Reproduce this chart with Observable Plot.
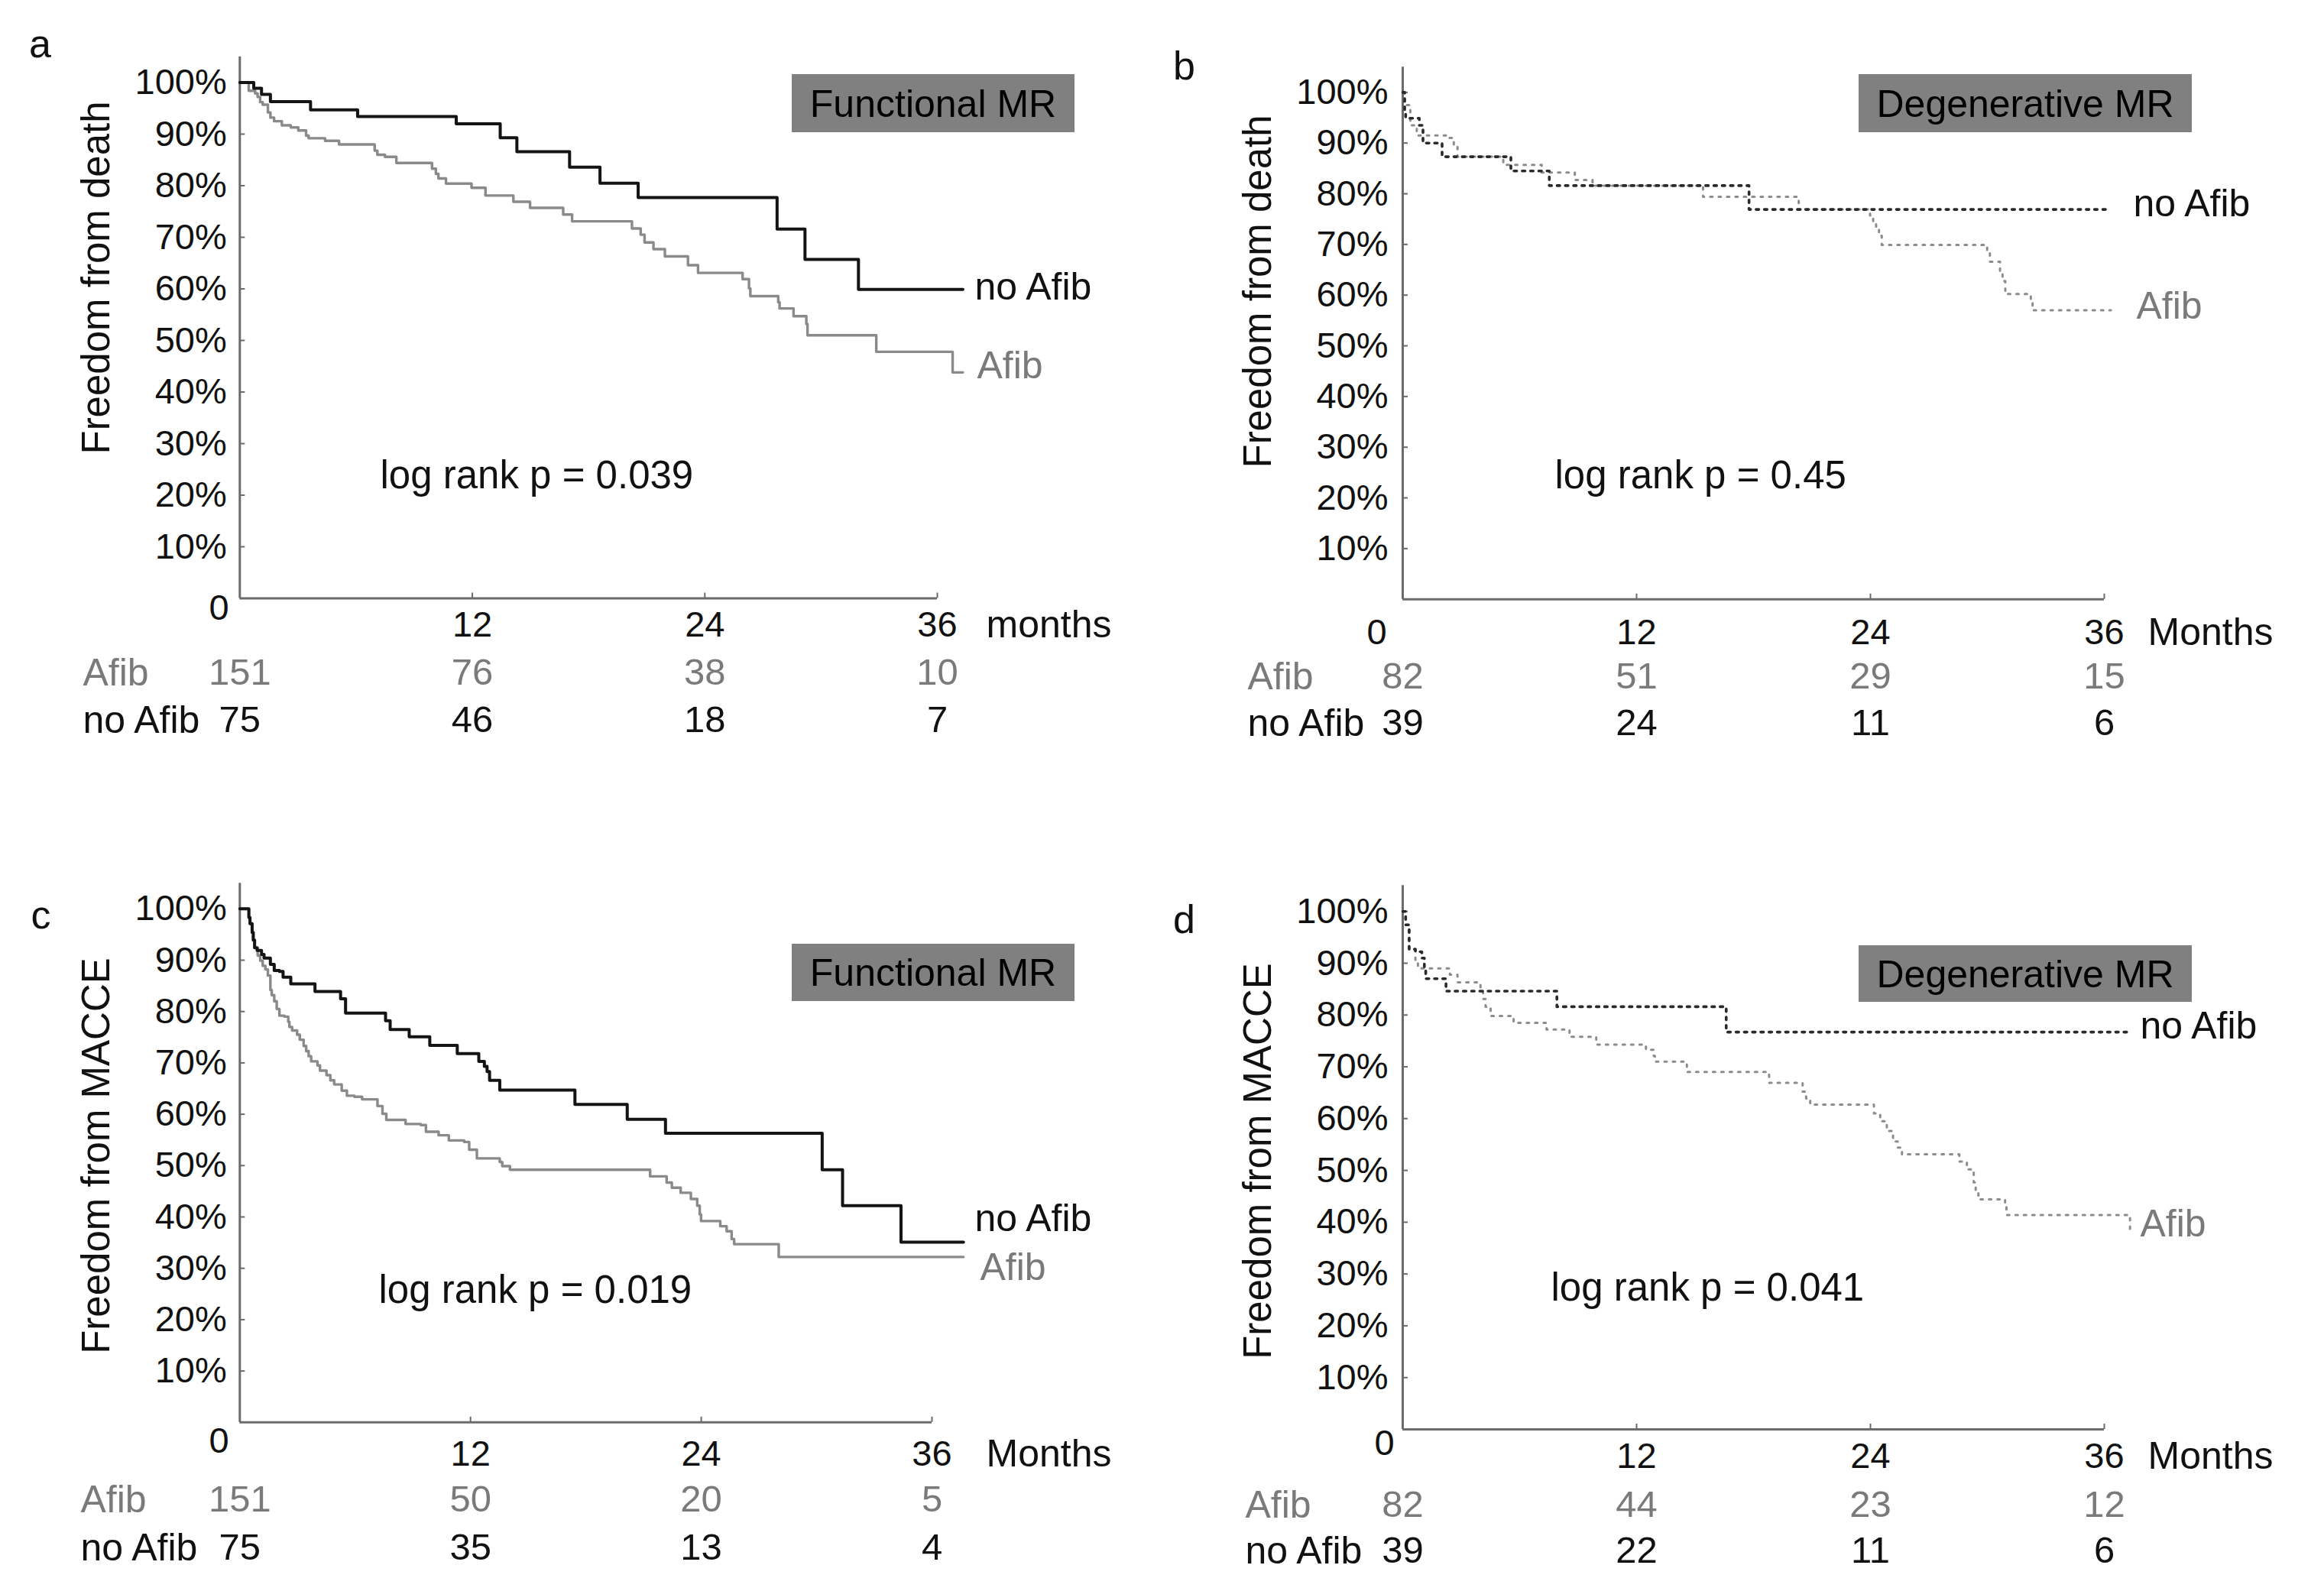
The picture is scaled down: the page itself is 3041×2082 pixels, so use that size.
<!DOCTYPE html>
<html>
<head>
<meta charset="utf-8">
<script src="https://cdn.jsdelivr.net/npm/d3@7"></script>
<script src="https://cdn.jsdelivr.net/npm/@observablehq/plot@0.6"></script>
<style>
html, body { margin: 0; padding: 0; background: #fff; }
#wrap { position: relative; width: 3041px; height: 2082px; overflow: hidden; background: #fff; }
.panel { position: absolute; }
</style>
</head>
<body>
<div id="wrap"></div>
<script>
// ---------- data ----------
const monthTicks = [0, 12, 24, 36];
const xTickLabels = ["12", "24", "36"];
const yTicks = [0.1, 0.2, 0.3, 0.4, 0.5, 0.6, 0.7, 0.8, 0.9, 1.0];

// Panel a: freedom from death, functional MR  [month, %]
const aNoAfib = [[0,100],[0.72,98.9],[1.12,97.7],[1.58,96.3],[3.65,94.7],[6.08,93.4],[11.17,92.0],[13.44,89.3],[14.3,86.6],[17.02,83.6],[18.59,80.5],[20.56,77.7],[27.73,71.6],[29.17,65.7],[31.93,59.9],[37.32,59.9]];
const aAfib = [[0,100],[0.46,98.4],[0.79,97.9],[0.92,97.2],[1.05,96.2],[1.18,95.7],[1.45,94.2],[1.58,93.2],[1.77,92.5],[2.17,91.7],[2.63,91.3],[3.02,90.7],[3.42,89.7],[3.55,89.2],[4.40,88.7],[5.12,88.0],[6.96,86.8],[7.10,86.0],[7.49,85.6],[8.08,84.4],[9.92,83.3],[10.12,82.3],[10.25,81.4],[10.64,80.4],[11.96,79.6],[12.68,78.1],[14.12,76.9],[14.98,75.7],[16.69,74.4],[17.15,73.1],[20.24,71.7],[20.69,70.5],[20.89,69.0],[21.35,67.7],[21.94,66.3],[23.13,64.6],[23.65,63.1],[25.95,61.9],[26.28,60.1],[26.35,58.6],[27.79,57.4],[27.86,56.2],[28.58,54.7],[29.24,53.2],[29.3,51.0],[32.85,47.8],[36.79,43.8],[37.32,43.8]];
const aRiskAfib = [151, 76, 38, 10];
const aRiskNoAfib = [75, 46, 18, 7];

// Panel b: freedom from death, degenerative MR
const bNoAfib = [[0,100],[0.1,96.0],[0.15,94.9],[0.85,93.5],[1.04,90.0],[2.02,87.3],[5.55,84.5],[7.52,81.6],[17.77,76.9],[36.34,76.9]];
const bAfib = [[0,100],[0.1,97.5],[0.39,93.5],[0.72,91.5],[2.35,91.0],[2.62,89.6],[2.81,87.3],[5.16,85.7],[7.13,84.2],[8.83,82.7],[9.74,81.6],[15.41,79.4],[20.32,76.9],[23.98,75.7],[24.14,74.2],[24.29,72.9],[24.44,71.7],[24.58,69.9],[29.99,68.9],[30.13,66.6],[30.65,64.1],[30.78,62.8],[30.92,60.2],[32.23,58.8],[32.32,57.0],[36.34,57.0]];
const bRiskAfib = [82, 51, 29, 15];
const bRiskNoAfib = [39, 24, 11, 6];

// Panel c: freedom from MACCE, functional MR
const cNoAfib = [[0,100],[0.47,98.3],[0.53,97.1],[0.64,95.4],[0.70,93.9],[0.77,92.4],[0.90,91.9],[1.13,91.1],[1.26,90.4],[1.59,89.2],[1.79,88.0],[2.06,87.8],[2.25,86.7],[2.65,85.4],[3.91,83.9],[5.24,82.5],[5.50,79.7],[7.58,78.2],[7.82,76.5],[8.81,75.1],[9.88,73.4],[11.31,71.8],[12.43,70.3],[12.72,69.3],[12.86,68.3],[12.99,66.6],[13.52,64.7],[17.43,61.9],[20.15,59.0],[22.14,56.3],[30.29,49.2],[31.35,42.2],[34.39,35.1],[37.64,35.1]];
const cAfib = [[0,100],[0.47,98.3],[0.53,97.1],[0.64,95.4],[0.70,93.9],[0.77,92.4],[0.93,90.9],[1.06,89.9],[1.19,88.9],[1.33,88.2],[1.46,87.0],[1.59,84.2],[1.66,83.2],[1.79,82.0],[1.92,80.5],[2.06,79.2],[2.32,79.0],[2.52,78.0],[2.58,77.0],[2.72,76.3],[2.98,75.5],[3.12,74.5],[3.32,73.3],[3.45,72.3],[3.58,71.3],[3.71,70.3],[4.04,69.5],[4.17,68.5],[4.51,67.6],[4.71,66.6],[4.91,65.8],[5.30,64.6],[5.57,63.6],[5.96,63.4],[6.36,62.9],[7.16,61.6],[7.42,60.1],[7.62,58.9],[8.62,58.1],[9.41,57.9],[9.68,56.6],[10.34,55.9],[10.87,54.9],[11.67,54.6],[11.93,53.1],[12.33,51.4],[13.52,50.7],[13.65,49.9],[14.05,49.2],[21.34,47.9],[22.20,46.7],[22.47,45.7],[22.93,44.7],[23.46,43.5],[23.79,42.2],[23.92,40.5],[23.99,39.2],[24.99,38.2],[25.32,37.2],[25.58,35.7],[25.71,34.7],[28.03,32.2],[37.64,32.2]];
const cRiskAfib = [151, 50, 20, 5];
const cRiskNoAfib = [75, 35, 13, 4];

// Panel d: freedom from MACCE, degenerative MR
const dNoAfib = [[0,100],[0.15,97.4],[0.33,92.7],[0.65,92.2],[0.98,91.0],[1.11,89.3],[1.18,87.0],[2.22,84.6],[7.91,81.6],[16.6,76.7],[37.19,76.7]];
const dAfib = [[0,100],[0.15,97.4],[0.33,92.7],[0.65,90.5],[0.78,89.0],[2.42,87.8],[2.81,86.3],[3.99,84.6],[4.12,83.1],[4.25,81.6],[4.51,79.8],[5.69,78.5],[7.38,77.2],[8.56,75.8],[9.93,74.3],[12.48,73.3],[12.88,72.1],[12.94,71.0],[14.58,69.0],[18.8,66.9],[20.52,65.2],[20.7,63.9],[20.91,62.7],[24.18,61.0],[24.5,59.5],[24.84,57.6],[25.16,55.6],[25.4,54.4],[25.62,53.1],[28.56,51.7],[28.95,50.2],[29.3,47.7],[29.4,46.2],[29.54,44.4],[30.91,43.0],[30.98,41.4],[37.32,41.4],[37.32,38.4]];
const dRiskAfib = [82, 44, 23, 12];
const dRiskNoAfib = [39, 22, 11, 6];

// ---------- layout / style ----------
const FONT = "'Liberation Sans', Arial, sans-serif";
const AX = "#6b6b6b";
const GRAYTXT = "#7a7a7a";

const panels = [
  { letter: "a", left: 0, top: 0, w: 1520, h: 1040, mL: 313.3, mR: 294, mT: 73.75, mB: 257.5,
    noAfib: aNoAfib, afib: aAfib, riskAfib: aRiskAfib, riskNo: aRiskNoAfib, dotted: false,
    ytitle: "Freedom from death", xunit: "months", box: "Functional MR", logrank: "log rank p = 0.039",
    pos: { letter: [52, 58], ytitle: [126, 363], zero: [286, 795], xlabY: 817, unitX: 1290,
      riskAfibY: 880, riskNoY: 942, riskLabX: 108, endNo: [1275, 375], endAf: [1278, 478],
      logrank: [497, 622], box: [1036, 97, 370, 76], pad: 17 } },
  { letter: "b", left: 1520, top: 0, w: 1521, h: 1040, mL: 315, mR: 288, mT: 87.2, mB: 256.3,
    noAfib: bNoAfib, afib: bAfib, riskAfib: bRiskAfib, riskNo: bRiskNoAfib, dotted: true,
    ytitle: "Freedom from death", xunit: "Months", box: "Degenerative MR", logrank: "log rank p = 0.45",
    pos: { letter: [29, 87], ytitle: [126, 381], zero: [281, 827], xlabY: 827, unitX: 1290,
      riskAfibY: 885, riskNoY: 946, riskLabX: 112, endNo: [1271, 266], endAf: [1275, 400],
      logrank: [514, 622], box: [912, 97, 436, 76], pad: 19 } },
  { letter: "c", left: 0, top: 1040, w: 1520, h: 1042, mL: 313.3, mR: 301, mT: 115.2, mB: 221.2,
    noAfib: cNoAfib, afib: cAfib, riskAfib: cRiskAfib, riskNo: cRiskNoAfib, dotted: false,
    ytitle: "Freedom from MACCE", xunit: "Months", box: "Functional MR", logrank: "log rank p = 0.019",
    pos: { letter: [53, 158], ytitle: [126, 472], zero: [286, 845], xlabY: 862, unitX: 1290,
      riskAfibY: 922, riskNoY: 985, riskLabX: 105, endNo: [1275, 554], endAf: [1282, 618],
      logrank: [495, 648], box: [1036, 195, 370, 75], pad: 17 } },
  { letter: "d", left: 1520, top: 1040, w: 1521, h: 1042, mL: 315, mR: 288, mT: 118.3, mB: 212,
    noAfib: dNoAfib, afib: dAfib, riskAfib: dRiskAfib, riskNo: dRiskNoAfib, dotted: true,
    ytitle: "Freedom from MACCE", xunit: "Months", box: "Degenerative MR", logrank: "log rank p = 0.041",
    pos: { letter: [29, 164], ytitle: [126, 479], zero: [291, 848], xlabY: 865, unitX: 1290,
      riskAfibY: 929, riskNoY: 989, riskLabX: 109, endNo: [1280, 302], endAf: [1280, 561],
      logrank: [509, 645], box: [912, 197, 436, 74], pad: 19 } }
];

function makePanel(p) {
  const P = p.pos;
  const plotW = p.w - p.mL - p.mR;
  const plotH = p.h - p.mT - p.mB;
  const pxPerMonth = plotW / 36;
  const pxPerUnit = plotH / 1.05;
  const frameBottom = p.h - p.mB;
  // absolute-position text helper (local SVG pixel coordinates, vertically centred)
  const at = (txt, px, py, o = {}) => Plot.text([txt], {
    text: d => d, frameAnchor: "top-left", dx: px - p.mL, dy: py - p.mT,
    fontSize: 50, fill: "#111", textAnchor: "start", lineAnchor: "middle", ...o
  });
  const solid = !p.dotted;
  const noStyle = solid
    ? { stroke: "#141414", strokeWidth: 4 }
    : { stroke: "#2a2a2a", strokeWidth: 3.6, strokeDasharray: "3.6,7.2" };
  const afStyle = solid
    ? { stroke: "#8a8a8a", strokeWidth: 3.4 }
    : { stroke: "#8c8c8c", strokeWidth: 3, strokeDasharray: "3,8" };

  const marks = [
    // axis lines
    Plot.ruleX([0], { x: () => 0, stroke: AX, strokeWidth: 3 }),
    Plot.ruleY([0], { y: () => 0, x1: () => 0, x2: () => 36, stroke: AX, strokeWidth: 3 }),
    // inward tick marks
    Plot.ruleY(yTicks, { y: d => d, x1: () => 0, x2: () => 7 / pxPerMonth, stroke: AX, strokeWidth: 2 }),
    Plot.ruleX(monthTicks.slice(1), { x: d => d, y1: () => 0, y2: () => 7 / pxPerUnit, stroke: AX, strokeWidth: 2 }),
    // y tick labels
    Plot.text(yTicks, { x: () => 0, y: d => d, text: d => Math.round(d * 100) + "%", textAnchor: "end",
      lineAnchor: "middle", dx: -P.pad, fontSize: 47, fill: "#111" }),
    // x tick labels
    Plot.text(monthTicks.slice(1), { x: d => d, text: (d, i) => xTickLabels[i], frameAnchor: "bottom",
      lineAnchor: "middle", dy: P.xlabY - frameBottom, fontSize: 47, fill: "#111" }),
    at("0", P.zero[0], P.zero[1], { textAnchor: "middle", fontSize: 47 }),
    at(p.xunit, P.unitX, P.xlabY, { fontSize: 50 }),
    // curves
    Plot.line(p.afib, { x: d => d[0], y: d => d[1] / 100, curve: "step-after", ...afStyle }),
    Plot.line(p.noAfib, { x: d => d[0], y: d => d[1] / 100, curve: "step-after", ...noStyle }),
    // numbers at risk
    at("Afib", P.riskLabX, P.riskAfibY, { fill: GRAYTXT }),
    at("no Afib", P.riskLabX, P.riskNoY, { fill: "#111" }),
    Plot.text(p.riskAfib, { x: (d, i) => monthTicks[i], text: d => String(d), frameAnchor: "bottom",
      lineAnchor: "middle", dy: P.riskAfibY - frameBottom, fontSize: 49, fill: GRAYTXT }),
    Plot.text(p.riskNo, { x: (d, i) => monthTicks[i], text: d => String(d), frameAnchor: "bottom",
      lineAnchor: "middle", dy: P.riskNoY - frameBottom, fontSize: 49, fill: "#111" }),
    // annotations
    at(p.letter, P.letter[0], P.letter[1], { textAnchor: "middle", fontSize: 52 }),
    at(p.ytitle, P.ytitle[0], P.ytitle[1], { textAnchor: "middle", rotate: -90, fontSize: 51 }),
    at("no Afib", P.endNo[0], P.endNo[1], { fill: "#111" }),
    at("Afib", P.endAf[0], P.endAf[1], { fill: GRAYTXT }),
    at(p.logrank, P.logrank[0], P.logrank[1], { fontSize: 51 })
  ];

  const svg = Plot.plot({
    width: p.w, height: p.h,
    marginLeft: p.mL, marginRight: p.mR, marginTop: p.mT, marginBottom: p.mB,
    x: { domain: [0, 36], axis: null },
    y: { domain: [0, 1.05], axis: null },
    style: { fontFamily: FONT, background: "white", overflow: "visible" },
    marks
  });

  // grey header box with label
  const [bx, by, bw, bh] = P.box;
  const g = d3.select(svg).append("g");
  g.append("rect").attr("x", bx).attr("y", by).attr("width", bw).attr("height", bh)
    .attr("fill", "#808080");
  g.append("text").attr("x", bx + bw / 2).attr("y", by + bh / 2)
    .attr("text-anchor", "middle").attr("dy", "0.35em")
    .attr("font-size", 50).attr("font-family", FONT).attr("fill", "#000")
    .text(p.box);

  const div = document.createElement("div");
  div.className = "panel";
  div.style.left = p.left + "px";
  div.style.top = p.top + "px";
  div.style.width = p.w + "px";
  div.style.height = p.h + "px";
  div.appendChild(svg);
  document.getElementById("wrap").appendChild(div);
}

panels.forEach(makePanel);
</script>
</body>
</html>
